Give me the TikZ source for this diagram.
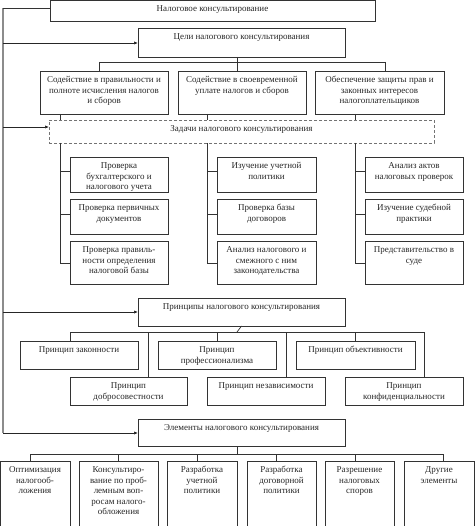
\documentclass[tikz,border=0pt]{standalone}
\usepackage{fontspec}
\setmainfont{Liberation Serif}
\usetikzlibrary{arrows.meta,calc}
\newcommand\bx[7][]{%
  \node[box,#1,anchor=north west] (#2) at (#3,#4) {\parbox[c][\dimexpr#6pt-#4pt\relax][t]{\dimexpr#5pt-#3pt\relax}{\centering\rule{0pt}{11.8pt}#7\par}};}
\tikzset{
  box/.style={draw=black!80, line width=0.7pt, inner sep=0pt, outer sep=0pt, font=\fontsize{9}{10.4}\selectfont, text=black!85},
  dbox/.style={draw=black!55, dash pattern=on 3pt off 2pt, line width=0.9pt},
  ln/.style={draw=black!80, line width=0.7pt},
  spine/.style={draw=black!45, line width=1.6pt},
  arr/.style={draw=black!85, line width=0.7pt, -{Latex[length=4pt,width=3.2pt]}}
}
\begin{document}
\begin{tikzpicture}[x=1pt,y=-1pt]
\useasboundingbox (0,0) rectangle (474,526);
% main boxes
\bx{top}{50}{0}{375}{21}{Налоговое консультирование}
\bx{celi}{138}{28}{345}{57}{Цели налогового консультирования}
\bx{g1}{40}{71}{168}{114}{Содействие в правильности и\\полноте исчисления налогов\\и сборов}
\bx{g2}{178}{71}{306}{114}{Содействие в своевременной\\уплате налогов и сборов}
\bx{g3}{315}{71}{444}{114}{Обеспечение защиты прав и\\законных интересов\\налогоплательщиков}
\bx[dbox]{zad}{49}{120}{434}{143}{Задачи налогового консультирования}
% tasks
\bx{t11}{70}{157}{168}{192}{Проверка\\бухгалтерского и\\налогового учета}
\bx{t12}{70}{199}{168}{234}{Проверка первичных\\документов}
\bx{t13}{70}{241}{168}{284}{Проверка правиль-\\ности определения\\налоговой базы}
\bx{t21}{217}{157}{316}{192}{Изучение учетной\\политики}
\bx{t22}{217}{199}{316}{234}{Проверка базы\\договоров}
\bx{t23}{217}{241}{316}{284}{Анализ налогового и\\смежного с ним\\законодательства}
\bx{t31}{365}{157}{463}{192}{Анализ актов\\налоговых проверок}
\bx{t32}{365}{199}{463}{234}{Изучение судебной\\практики}
\bx{t33}{365}{241}{463}{284}{Представительство в\\суде}
% principles
\bx{pr}{138}{298}{345}{326}{Принципы налогового консультирования}
\bx{p1}{20}{341}{138}{369}{Принцип законности}
\bx{p2}{158}{341}{276}{369}{Принцип\\профессионализма}
\bx{p3}{296}{341}{415}{369}{Принцип объективности}
\bx{p4}{70}{377}{187}{405}{Принцип\\добросовестности}
\bx{p5}{207}{377}{325}{405}{Принцип независимости}
\bx{p6}{345}{377}{463}{405}{Принцип\\конфиденциальности}
% elements
\bx{el}{138}{419}{345}{446}{Элементы налогового консультирования}
\bx{e1}{0}{461}{70}{532}{Оптимизация\\налогооб-\\ложения}
\bx{e2}{79}{461}{158}{532}{Консультиро-\\вание по проб-\\лемным воп-\\росам налого-\\обложения}
\bx{e3}{167}{461}{237}{532}{Разработка\\учетной\\политики}
\bx{e4}{247}{461}{316}{532}{Разработка\\договорной\\политики}
\bx{e5}{325}{461}{394}{532}{Разрешение\\налоговых\\споров}
\bx{e6}{404}{461}{474}{532}{Другие\\элементы}
% spine
\coordinate (sTop) at (3,8);
\coordinate (sBot) at (3,433);
\draw[spine] (sTop) -- (sBot);
\draw[ln] (top.west |- sTop) -- (sTop);
\draw[arr] (3,43) -- (celi.west |- 0,43);
\draw[arr] (3,127) -- (zad.west |- 0,127);
\draw[arr] (3,312) -- (pr.west |- 0,312);
\draw[arr] (sBot) -- (el.west |- sBot);
% goals tree
\draw[ln] (celi.south -| 237,0) -- (237,62);
\draw[ln] (99,62) -- (385,62);
\draw[ln] (99,62) -- (g1.north -| 99,0);
\draw[ln] (237,62) -- (g2.north -| 237,0);
\draw[ln] (385,62) -- (g3.north -| 385,0);
\draw[ln] (g1.south -| 60,0) -- (zad.north -| 60,0);
\draw[ln] (g2.south -| 207,0) -- (zad.north -| 207,0);
\draw[ln] (g3.south -| 355,0) -- (zad.north -| 355,0);
% tasks
\foreach \x/\c in {60/1,207/2,355/3}{
  \draw[ln] (zad.south -| \x,0) -- (\x,263);
  \draw[ln] (\x,171) -- (t\c1.west |- 0,171);
  \draw[ln] (\x,214) -- (t\c2.west |- 0,214);
  \draw[ln] (\x,263) -- (t\c3.west |- 0,263);
}
% principles tree
\draw[ln] (pr.south) -- (237,332);
\draw[ln] (70,332) -- (424,332);
\draw[ln] (70,332) -- (p1.north -| 70,0);
\draw[ln] (148,332) -- (p4.north -| 148,0);
\draw[ln] (217,332) -- (p2.north -| 217,0);
\draw[ln] (286,332) -- (p5.north -| 286,0);
\draw[ln] (355,332) -- (p3.north -| 355,0);
\draw[ln] (424,332) -- (p6.north -| 424,0);
% elements tree
\draw[ln] (el.south -| 237,0) -- (237,454);
\draw[ln] (30,454) -- (443,454);
\draw[ln] (30,454) -- (e1.north -| 30,0);
\draw[ln] (118,454) -- (e2.north -| 118,0);
\draw[ln] (197,454) -- (e3.north -| 197,0);
\draw[ln] (276,454) -- (e4.north -| 276,0);
\draw[ln] (355,454) -- (e5.north -| 355,0);
\draw[ln] (443,454) -- (e6.north -| 443,0);
\end{tikzpicture}
\end{document}
